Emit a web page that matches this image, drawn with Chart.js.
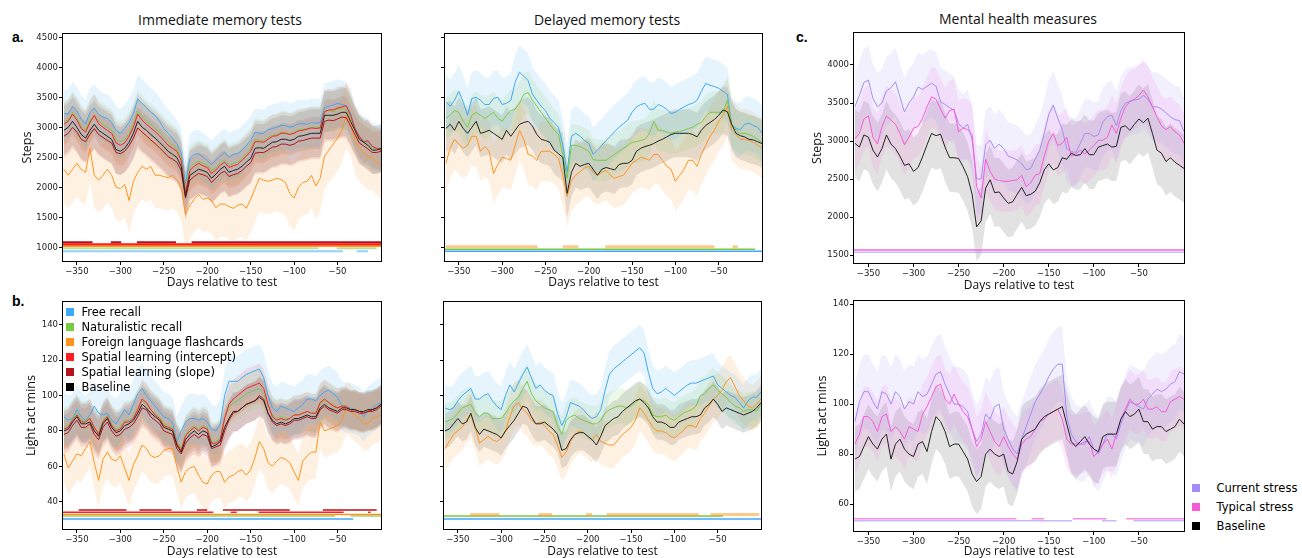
<!DOCTYPE html>
<html>
<head>
<meta charset="utf-8">
<script src="https://cdn.jsdelivr.net/npm/chart.js@4.4.1/dist/chart.umd.min.js"></script>
<style>
  body { margin: 0; background: #fff; width: 1302px; height: 558px; overflow: hidden; position: relative; }
  canvas { position: absolute; }
  .ttl { position: absolute; width: 300px; text-align: center; font-family: "Open Sans", sans-serif; font-size: 14px; line-height: 16px; color: #111; }
  .lbl { position: absolute; font-family: "Liberation Sans", Arial, sans-serif; font-weight: bold; font-size: 14px; line-height: 16px; color: #000; }
  .leg { position: absolute; font-family: "DejaVu Sans", sans-serif; font-size: 11.5px; line-height: 14px; color: #000; white-space: nowrap; }
  .leg i { position: absolute; width: 8px; height: 8px; left: 0; top: 3px; }
</style>
</head>
<body>

<div class="ttl" style="left:70px;top:12px">Immediate memory tests</div>
<div class="ttl" style="left:457px;top:12px">Delayed memory tests</div>
<div class="ttl" style="left:868px;top:11px">Mental health measures</div>
<div class="lbl" style="left:12px;top:29px">a.</div>
<div class="lbl" style="left:12px;top:293px">b.</div>
<div class="lbl" style="left:796px;top:29px">c.</div>

<script>
// x positions (days relative to test), one value every 5 days
const days = [-365,-360,-355,-350,-345,-340,-335,-330,-325,-320,-315,-310,-305,-300,-295,-290,-285,-280,-275,-270,-265,-260,-255,-250,-245,-240,-235,-230,-225,-220,-215,-210,-205,-200,-195,-190,-185,-180,-175,-170,-165,-160,-155,-150,-145,-140,-135,-130,-125,-120,-115,-110,-105,-100,-95,-90,-85,-80,-75,-70,-65,-60,-55,-50,-45,-40,-35,-30,-25,-20,-15,-10,-5,0];

const xTicks = [-350, -300, -250, -200, -150, -100, -50];
const stepsTicks = [1000, 1500, 2000, 2500, 3000, 3500, 4000, 4500];
const stepsTicksC = [1500, 2000, 2500, 3000, 3500, 4000];
const lightTicks = [40, 60, 80, 100, 120, 140];
const lightTicksF = [60, 80, 100, 120, 140];

// a. immediate memory tests, steps
const stepsImmFree = [3230,3220,3350,3280,3130,3050,3250,3320,3220,3170,
  3150,3080,2950,2900,2980,3080,3220,3470,3400,3330,
  3250,3200,3100,2980,2900,2820,2720,2580,2050,2480,
  2550,2560,2500,2450,2380,2450,2520,2580,2500,2550,
  2560,2620,2700,2780,2920,2900,2900,2960,2980,3000,
  3030,3030,3000,3020,3060,3060,3050,3080,3070,3080,
  3330,3350,3370,3400,3380,3360,3230,3000,2850,2780,
  2750,2680,2650,2650];
const stepsImmNat = [3100,3120,3250,3150,3020,2950,3120,3200,3100,3050,
  3000,2950,2800,2760,2800,2900,3050,3270,3180,3100,
  3050,2980,2920,2830,2760,2700,2640,2480,1950,2330,
  2400,2440,2400,2380,2280,2330,2410,2460,2370,2400,
  2420,2480,2560,2640,2800,2780,2780,2830,2870,2880,
  2920,2920,2890,2920,2960,2970,2980,3000,3000,3000,
  3270,3280,3260,3300,3320,3300,3170,2980,2830,2760,
  2720,2640,2640,2650];
const stepsImmFlash = [2300,2200,2300,2400,2300,2250,2650,2200,2120,2200,
  2300,2200,2000,1980,2050,1780,2100,2250,2350,2300,
  2350,2200,2200,2180,2160,2200,2130,2000,1550,1700,
  1800,1880,1800,1820,1780,1660,1720,1720,1680,1650,
  1700,1720,1650,1800,1980,2150,2120,2100,2120,2150,
  2130,2080,1900,1820,2000,2080,2100,2200,2020,2150,
  2520,2620,2720,2820,2950,3200,3080,2780,2660,2580,
  2500,2500,2420,2350];
const stepsImmInter = [3050,3100,3220,3120,2980,2920,3080,3200,3060,3000,
  2950,2900,2740,2700,2740,2850,3000,3220,3120,3050,
  2990,2930,2860,2780,2700,2650,2600,2450,1900,2280,
  2350,2400,2360,2330,2230,2290,2370,2420,2330,2360,
  2380,2450,2520,2600,2760,2760,2750,2800,2850,2860,
  2900,2900,2880,2900,2940,2950,2970,2990,2980,2990,
  3260,3290,3290,3320,3340,3360,3200,2980,2850,2750,
  2780,2680,2650,2620];
const stepsImmSlope = [2850,2900,3000,2920,2800,2760,2880,2980,2880,2830,
  2780,2740,2580,2560,2600,2690,2820,2990,2920,2860,
  2790,2730,2660,2590,2510,2470,2420,2280,1820,2120,
  2180,2230,2210,2180,2080,2150,2230,2270,2180,2210,
  2230,2280,2350,2410,2570,2580,2580,2620,2670,2680,
  2720,2720,2700,2720,2770,2780,2800,2820,2820,2820,
  3100,3120,3110,3140,3170,3160,3020,2880,2740,2690,
  2640,2580,2580,2600];
const stepsImmBase = [2950,3000,3100,3000,2880,2820,2950,3050,2950,2900,
  2850,2800,2630,2600,2650,2750,2900,3100,3000,2950,
  2880,2820,2750,2680,2600,2550,2500,2350,1850,2200,
  2250,2300,2280,2250,2150,2220,2300,2350,2250,2280,
  2300,2350,2420,2480,2650,2660,2650,2700,2750,2760,
  2800,2800,2780,2800,2850,2860,2880,2900,2900,2900,
  3200,3200,3200,3220,3250,3250,3100,2950,2800,2750,
  2700,2620,2620,2650];

// delayed memory tests, steps
const stepsDelFree = [3430,3350,3450,3600,3420,3200,3480,3500,3450,3380,
  3380,3480,3500,3380,3400,3450,3750,3920,3850,3780,
  3550,3450,3350,3280,3150,3080,3000,2700,2250,2850,
  2900,2850,2780,2730,2550,2620,2700,2780,2850,2930,
  3000,3060,3120,3250,3340,3380,3400,3300,3300,3380,
  3350,3300,3230,3250,3300,3340,3380,3400,3450,3600,
  3730,3700,3680,3650,3600,3550,3050,2980,2960,3050,
  3070,3030,3000,2900];
const stepsDelNat = [3150,3200,3280,3250,3100,3000,3200,3250,3200,3150,
  3200,3250,3150,3100,3200,3280,3300,3400,3550,3580,
  3450,3350,3250,3150,3050,2950,2880,2550,2150,2700,
  2700,2680,2640,2600,2460,2450,2450,2450,2500,2550,
  2600,2650,2700,2750,2760,2780,2800,2900,3100,2950,
  2950,2920,2900,2920,2930,2950,2980,3000,3050,3080,
  3180,3250,3250,3250,3250,3450,3050,2950,2900,2900,
  2880,2850,2800,2750];
const stepsDelFlash = [2400,2650,2800,2720,2650,2700,2850,2850,2600,2680,
  2600,2230,2380,2500,2480,2450,2700,2950,2800,2550,
  2520,2450,2600,2600,2600,2550,2480,2200,1850,2120,
  2200,2260,2320,2350,2250,2200,2250,2280,2200,2150,
  2180,2200,2300,2400,2450,2500,2480,2450,2550,2550,
  2450,2350,2300,2100,2200,2300,2450,2450,2350,2550,
  2700,2850,2950,3100,3200,3350,2950,2880,2800,2800,
  2780,2750,2700,2650];
const stepsDelBase = [2980,3050,2950,3100,2980,2900,3000,3100,2900,2920,
  2950,2900,2850,2800,2950,2850,2950,3050,3080,3100,
  3020,2880,2800,2780,2750,2620,2560,2500,1900,2250,
  2400,2350,2380,2400,2300,2200,2300,2330,2310,2290,
  2380,2400,2400,2450,2600,2650,2680,2700,2730,2770,
  2800,2840,2880,2900,2900,2900,2900,2880,2840,2950,
  3030,3080,3130,3200,3290,3260,3050,2900,2860,2840,
  2800,2790,2760,2730];

// c. mental health measures, steps
const stepsCurStress = [3450,3600,3770,3800,3560,3450,3500,3660,3700,3780,
  3580,3380,3500,3580,3710,3680,3720,3760,3720,3520,
  3480,3440,3400,3230,3170,3220,3020,2500,2500,2950,
  3010,2900,2960,2900,2800,2780,2750,2700,2620,2640,
  2760,2880,3100,3350,3470,3300,3150,2900,2860,2850,
  2970,3100,3100,3060,3080,3250,3320,3340,3200,3400,
  3500,3520,3540,3550,3600,3550,3450,3450,3420,3370,
  3320,3280,3270,3120];
const stepsTypStress = [3030,3100,3290,3330,3050,2960,3190,3330,3280,3220,
  3100,2950,3050,3170,3190,3300,3450,3580,3550,3420,
  3300,3400,3420,3120,3170,3150,3080,2400,2250,2760,
  2600,2500,2480,2470,2470,2480,2490,2550,2400,2450,
  2550,2570,2800,3000,3100,2940,2970,3050,2800,2830,
  2880,2830,2880,2940,3010,3010,3050,3210,3100,3300,
  3450,3520,3550,3600,3670,3580,3450,3320,3200,3150,
  3190,3120,3080,2970];
const stepsMentBase = [2970,2920,3080,3050,2880,2790,2900,3080,2960,2900,
  2800,2680,2700,2600,2650,2790,2950,3100,3070,3090,
  2920,2780,2780,2770,2660,2530,2300,1870,1950,2380,
  2490,2320,2330,2250,2180,2200,2300,2390,2280,2300,
  2340,2450,2620,2700,2620,2650,2780,2760,2840,2810,
  2820,2900,2820,2820,2920,2940,2960,2920,2930,3180,
  3200,3140,3220,3290,3240,3300,3100,2880,2840,2730,
  2780,2720,2680,2640];

// b. immediate memory tests, light activity minutes
const lightImmFree = [88,86,87,92,88,86,89,94,90,89,
  90,86,84,88,92,89,95,101,104,100,
  97,94,91,88,87,85,74,80,85,87,
  87,86,87,85,81,80,84,100,108,108,
  108,110,112,113,114,115,110,100,93,91,
  94,93,92,91,93,95,98,98,97,100,
  102,103,101,99,94,93,93,92,91,88,
  91,93,95,96];
const lightImmNat = [82,83,87,90,86,86,87,82,79,86,
  89,84,81,82,86,86,88,93,97,95,
  92,90,88,84,83,82,74,70,78,81,
  83,81,83,82,74,74,76,87,93,96,
  97,99,101,102,103,104,101,94,89,87,
  88,87,87,89,89,90,91,90,90,95,
  97,96,95,93,94,93,92,92,91,90,
  91,92,93,95];
const lightImmFlash = [67,59,63,67,66,70,74,62,52,64,
  68,64,63,66,59,52,61,66,72,70,
  66,65,66,69,70,70,60,51,57,59,
  60,55,51,50,55,57,57,51,54,55,
  57,58,55,58,65,74,70,62,60,63,
  65,64,62,57,52,63,66,68,68,85,
  80,81,82,83,86,93,91,89,87,84,
  84,87,88,89];
const lightImmInter = [81,82,86,89,85,85,87,82,78,85,
  88,83,80,81,85,85,87,92,98,96,
  92,89,87,83,82,81,73,69,77,80,
  82,80,82,81,73,73,75,87,95,98,
  100,102,104,105,106,107,104,95,88,86,
  87,86,87,89,89,90,91,90,90,96,
  98,96,94,93,94,94,92,92,91,90,
  91,92,93,95];
const lightImmSlope = [78,79,83,86,82,82,84,78,75,82,
  85,80,77,78,81,82,84,88,93,92,
  88,86,84,80,79,78,70,67,73,76,
  78,76,78,77,70,71,72,80,86,90,
  91,93,95,96,97,100,98,90,85,83,
  84,83,84,86,86,87,88,87,87,92,
  94,92,91,90,92,92,91,91,90,90,
  91,91,92,94];
const lightImmBase = [80,81,85,88,84,84,85,80,77,84,
  87,82,79,80,83,84,86,90,95,93,
  90,88,86,82,81,80,72,68,75,78,
  80,78,80,79,71,72,74,82,87,91,
  91,93,95,96,97,99,97,90,86,84,
  85,84,85,87,87,88,89,88,88,93,
  95,93,92,91,93,93,92,92,91,91,
  92,92,93,95];

// delayed memory tests, light activity minutes
const lightDelFree = [93,92,93,97,100,102,104,98,98,100,
  101,97,94,92,100,106,102,107,112,116,
  110,104,106,103,101,100,90,83,88,96,
  95,94,92,89,87,88,92,103,112,115,
  117,119,121,123,125,127,124,113,104,101,
  102,104,102,100,102,104,106,107,107,108,
  109,110,111,106,104,102,100,99,96,93,
  97,99,99,102];
const lightDelNat = [85,86,87,90,93,94,95,90,88,90,
  90,87,87,87,90,94,97,99,104,108,
  101,97,95,93,92,91,83,78,86,88,
  89,87,86,85,84,84,86,90,92,93,
  94,94,93,94,96,98,97,95,89,88,
  88,89,87,86,88,90,91,92,94,100,
  101,104,106,103,101,99,96,94,93,91,
  92,92,91,95];
const lightDelFlash = [70,74,78,80,82,86,89,82,73,75,
  77,75,74,76,80,88,94,96,92,90,
  86,84,85,83,80,78,72,65,68,74,
  78,80,79,77,75,78,74,73,72,72,
  75,78,80,82,86,93,90,86,82,80,
  80,79,77,76,78,80,83,83,82,87,
  90,94,98,100,103,108,110,105,100,97,
  94,93,95,98];
const lightDelBase = [80,81,84,87,84,85,90,82,78,81,
  80,79,78,76,80,83,86,90,94,93,
  88,84,84,85,83,81,78,69,70,75,
  78,79,79,77,75,72,77,83,85,87,
  88,91,93,95,97,98,96,93,88,85,
  85,84,82,82,85,86,87,88,88,89,
  93,95,98,95,91,93,92,91,90,89,
  90,91,93,96];

// mental health measures, light activity minutes
const lightCurStress = [93,101,105,105,101,98,105,104,100,105,
  103,98,101,100,105,103,104,108,112,113,
  108,104,100,100,99,97,90,85,88,96,
  94,99,100,90,86,82,80,86,91,96,
  101,104,107,111,114,116,116,95,88,85,
  84,84,87,82,80,84,88,88,86,92,
  97,101,100,99,98,102,104,106,105,106,
  108,109,113,112];
const lightTypStress = [84,88,95,95,93,89,95,96,89,91,
  89,86,91,90,89,96,99,103,107,108,
  102,100,104,100,97,95,90,83,86,93,
  89,85,83,87,83,80,78,84,86,87,
  90,93,94,96,97,98,94,86,84,84,
  84,85,85,79,81,84,86,82,88,94,
  98,102,100,100,102,98,98,99,97,97,
  101,102,103,102];
const lightMentBase = [78,79,83,87,84,82,86,88,78,84,
  86,82,80,79,84,85,81,89,95,93,
  89,83,84,84,81,78,72,69,71,80,
  82,80,79,80,73,72,77,86,88,89,
  90,93,95,96,97,98,99,92,85,83,
  85,87,84,82,81,87,88,88,88,94,
  97,95,96,98,93,93,90,91,91,89,
  90,91,94,92];

// significance bars: [start day, end day] segments
const sigAFree = [[-366, -44], [-28, -15]];
const sigANat = [[-366, -72], [-51, -5]];
const sigAFlash = [[-366, 0]];
const sigAInter = [[-366, 0]];
const sigASlope = [[-366, -332], [-311, -299], [-281, -236], [-218, 0]];
const sigBFree = [[-366, 0]];
const sigBNat = [[-366, -8]];
const sigBFlash = [[-365, -259], [-230, -212], [-181, -55], [-34, -28]];
const sigCCur = [[-366, 0]];
const sigCTyp = [[-366, 0]];
const sigDFree = [[-366, -32]];
const sigDNat = [[-366, -53], [-35, 0]];
const sigDFlash = [[-366, 0]];
const sigDInter = [[-366, -193], [-173, -166], [-141, -43], [-15, -12]];
const sigDSlope = [[-348, -293], [-278, -241], [-212, -200], [-182, -105], [-67, -5]];
const sigEFree = [[-366, 0]];
const sigENat = [[-366, -44]];
const sigEFlash = [[-336, -302], [-257, -241], [-202, -195], [-178, -72], [-58, -2]];
const sigFCur = [[-366, -124], [-91, -75], [-56, 0]];
const sigFTyp = [[-366, -186], [-169, -155], [-123, -86], [-64, 0]];

const C = {
  free: '#3fa9f5', nat: '#7ac943', flash: '#ff931e', inter: '#ff1d25',
  slope: '#b5121b', base: '#222222', cur: '#a38cf4', typ: '#f55bd9'
};

function rgba(hex, a) {
  const n = parseInt(hex.slice(1), 16);
  return `rgba(${n >> 16},${(n >> 8) & 255},${n & 255},${a})`;
}

const minus = v => (v < 0 ? '\u2212' + Math.abs(v) : String(v));

const panels = [
  { box: [0, 24, 386, 292], plot: [63, 34, 381, 261], y: [772, 4555], yTicks: stepsTicks, yLabels: true,
    yTitle: 'Steps', yTitlePad: 20.75, xTitlePad: 3,
    series: [[stepsImmFree, C.free, 400], [stepsImmNat, C.nat, 350], [stepsImmFlash, C.flash, 550],
             [stepsImmInter, C.inter, 350], [stepsImmSlope, C.slope, 350], [stepsImmBase, C.base, 400]],
    sig: [[sigASlope, 1083, C.slope, 1, 2], [sigAInter, 1050, C.inter, 1, 2], [sigAFlash, 1020, C.flash, 1, 2],
          [sigANat, 985, C.nat, 0.55, 2], [sigAFree, 935, C.free, 0.55, 2]] },
  { box: [440, 24, 767, 292], plot: [445, 34, 762, 261], y: [772, 4555], yTicks: stepsTicks, yLabels: false,
    xTitlePad: 3,
    series: [[stepsDelFree, C.free, 450], [stepsDelNat, C.nat, 350], [stepsDelFlash, C.flash, 500],
             [stepsDelBase, C.base, 400]],
    sig: [[sigBFlash, 1010, C.flash, 0.5, 3], [sigBNat, 967, C.nat, 1, 1.5], [sigBFree, 933, C.free, 1, 1.5]] },
  { box: [790, 23, 1189, 293], plot: [854, 33, 1184, 263], y: [1395, 4421], yTicks: stepsTicksC, yLabels: true,
    yTitle: 'Steps', yTitlePad: 20.75, xTitlePad: 1,
    series: [[stepsCurStress, C.cur, 450], [stepsTypStress, C.typ, 400], [stepsMentBase, C.base, 450]],
    sig: [[sigCTyp, 1566, C.typ, 0.7, 2], [sigCCur, 1535, C.cur, 0.6, 1.5]] },
  { box: [0, 292, 386, 558], plot: [63, 302, 381, 529], y: [24.6, 152.8], yTicks: lightTicks, yLabels: true,
    yTitle: 'Light act mins', yTitlePad: 24.75, xTitlePad: 0.3,
    series: [[lightImmFree, C.free, 14], [lightImmNat, C.nat, 11], [lightImmFlash, C.flash, 15],
             [lightImmInter, C.inter, 11], [lightImmSlope, C.slope, 11], [lightImmBase, C.base, 11]],
    sig: [[sigDSlope, 35.3, C.slope, 1, 1.5], [sigDInter, 34.0, C.inter, 1, 1.5], [sigDFlash, 32.8, C.flash, 1, 1.5],
          [sigDNat, 31.9, C.nat, 0.55, 2], [sigDFree, 30.2, C.free, 1, 1.5]] },
  { box: [439, 292, 766, 558], plot: [444, 302, 761, 529], y: [24.6, 152.8], yTicks: lightTicks, yLabels: false,
    xTitlePad: 0.3,
    series: [[lightDelFree, C.free, 13], [lightDelNat, C.nat, 10], [lightDelFlash, C.flash, 13],
             [lightDelBase, C.base, 10]],
    sig: [[sigEFlash, 32.8, C.flash, 0.5, 3], [sigENat, 31.9, C.nat, 1, 1.5], [sigEFree, 30.2, C.free, 1, 1.5]] },
  { box: [790, 291, 1189, 558], plot: [854, 301, 1184, 531], y: [49.2, 141.3], yTicks: lightTicksF, yLabels: true,
    yTitle: 'Light act mins', yTitlePad: 25.75, xTitlePad: 0,
    series: [[lightCurStress, C.cur, 15], [lightTypStress, C.typ, 12], [lightMentBase, C.base, 13]],
    sig: [[sigFTyp, 54.1, C.typ, 0.7, 1.5], [sigFCur, 53.3, C.cur, 0.6, 1.5]] }
];

const frame = {
  id: 'frame',
  afterDraw(chart) {
    const { ctx, chartArea: a } = chart;
    ctx.save();
    ctx.strokeStyle = '#000';
    ctx.lineWidth = 1;
    ctx.strokeRect(Math.round(a.left) - 0.5, Math.round(a.top) - 0.5,
      Math.round(a.right - a.left) + 1, Math.round(a.bottom - a.top) + 1);
    ctx.restore();
  }
};

const tickFont = { family: 'DejaVu Sans', size: 8.5 };

function makePanel(p) {
  const [bl, bt, br, bb] = p.box;
  const [pl, pt, pr, pb] = p.plot;
  const cv = document.createElement('canvas');
  cv.width = br - bl;
  cv.height = bb - bt;
  cv.style.left = bl + 'px';
  cv.style.top = bt + 'px';
  document.body.appendChild(cv);

  const sets = [];
  const n = p.series.length;
  p.series.forEach(([vals, color, half]) => {
    sets.push({ data: days.map((d, k) => ({ x: d, y: vals[k] + half })), borderWidth: 0, borderColor: 'transparent',
      pointRadius: 0, fill: '+1', backgroundColor: rgba(color, 0.13), order: 3 });
    sets.push({ data: days.map((d, k) => ({ x: d, y: vals[k] - half })), borderWidth: 0, borderColor: 'transparent',
      pointRadius: 0, fill: false, order: 3 });
  });
  p.series.forEach(([vals, color], i) => {
    sets.push({ data: days.map((d, k) => ({ x: d, y: vals[k] })), borderColor: color, borderWidth: 1,
      pointRadius: 0, fill: false, order: 1 + (n - i) / 100 });
  });
  p.sig.forEach(([segs, yv, color, alpha, w]) => {
    const pts = [];
    segs.forEach(([s, e], k) => {
      if (k) pts.push({ x: s, y: null });
      pts.push({ x: s, y: yv }, { x: e, y: yv });
    });
    sets.push({ data: pts, borderColor: rgba(color, alpha), borderWidth: w, pointRadius: 0,
      fill: false, spanGaps: false, order: 0 });
  });

  new Chart(cv, {
    type: 'line',
    data: { datasets: sets },
    plugins: [frame],
    options: {
      responsive: false,
      animation: false,
      devicePixelRatio: 1,
      events: [],
      layout: { padding: { left: 0, top: pt - bt, right: br - pr, bottom: 0 } },
      plugins: { legend: { display: false }, tooltip: { enabled: false } },
      elements: { line: { tension: 0 } },
      scales: {
        x: {
          type: 'linear', min: -366, max: 0,
          afterBuildTicks: s => { s.ticks = xTicks.map(v => ({ value: v })); },
          afterFit: s => { s.height = bb - pb; },
          grid: { drawOnChartArea: false, color: '#000', tickLength: 4 },
          border: { display: false },
          ticks: { font: tickFont, color: '#222', padding: 2, autoSkip: false, maxRotation: 0, callback: v => minus(v) },
          title: { display: true, text: 'Days relative to test', color: '#111',
            font: { family: 'Open Sans', size: 12, lineHeight: 1 }, padding: { top: 0, bottom: p.xTitlePad } }
        },
        y: {
          type: 'linear', min: p.y[0], max: p.y[1],
          afterBuildTicks: s => { s.ticks = p.yTicks.map(v => ({ value: v })); },
          afterFit: s => { s.width = pl - bl; },
          grid: { drawOnChartArea: false, color: '#000', tickLength: 4 },
          border: { display: false },
          ticks: { font: tickFont, color: '#222', padding: 1, autoSkip: false,
            callback: v => (p.yLabels ? minus(v) : '') },
          title: { display: !!p.yTitle, text: p.yTitle || '', color: '#111',
            font: { family: 'Open Sans', size: 12.5, lineHeight: 1 }, padding: { top: p.yTitlePad || 0, bottom: 0 } }
        }
      }
    }
  });
}

panels.forEach(makePanel);

// legends (drawn as page text)
const legendImm = [['Free recall', C.free], ['Naturalistic recall', C.nat], ['Foreign language flashcards', C.flash],
  ['Spatial learning (intercept)', C.inter], ['Spatial learning (slope)', C.slope], ['Baseline', '#000']];
const legendMent = [['Current stress', C.cur], ['Typical stress', C.typ], ['Baseline', '#000']];

function legend(items, left, top, step, textGap) {
  items.forEach(([txt, col], i) => {
    const d = document.createElement('div');
    d.className = 'leg';
    d.style.left = left + 'px';
    d.style.top = (top + i * step) + 'px';
    d.style.paddingLeft = textGap + 'px';
    d.innerHTML = `<i style="background:${col}"></i>${txt}`;
    document.body.appendChild(d);
  });
}
legend(legendImm, 66, 304.5, 15, 15.5);
legend(legendMent, 1192, 481, 19.2, 24.5);
</script>
</body>
</html>
